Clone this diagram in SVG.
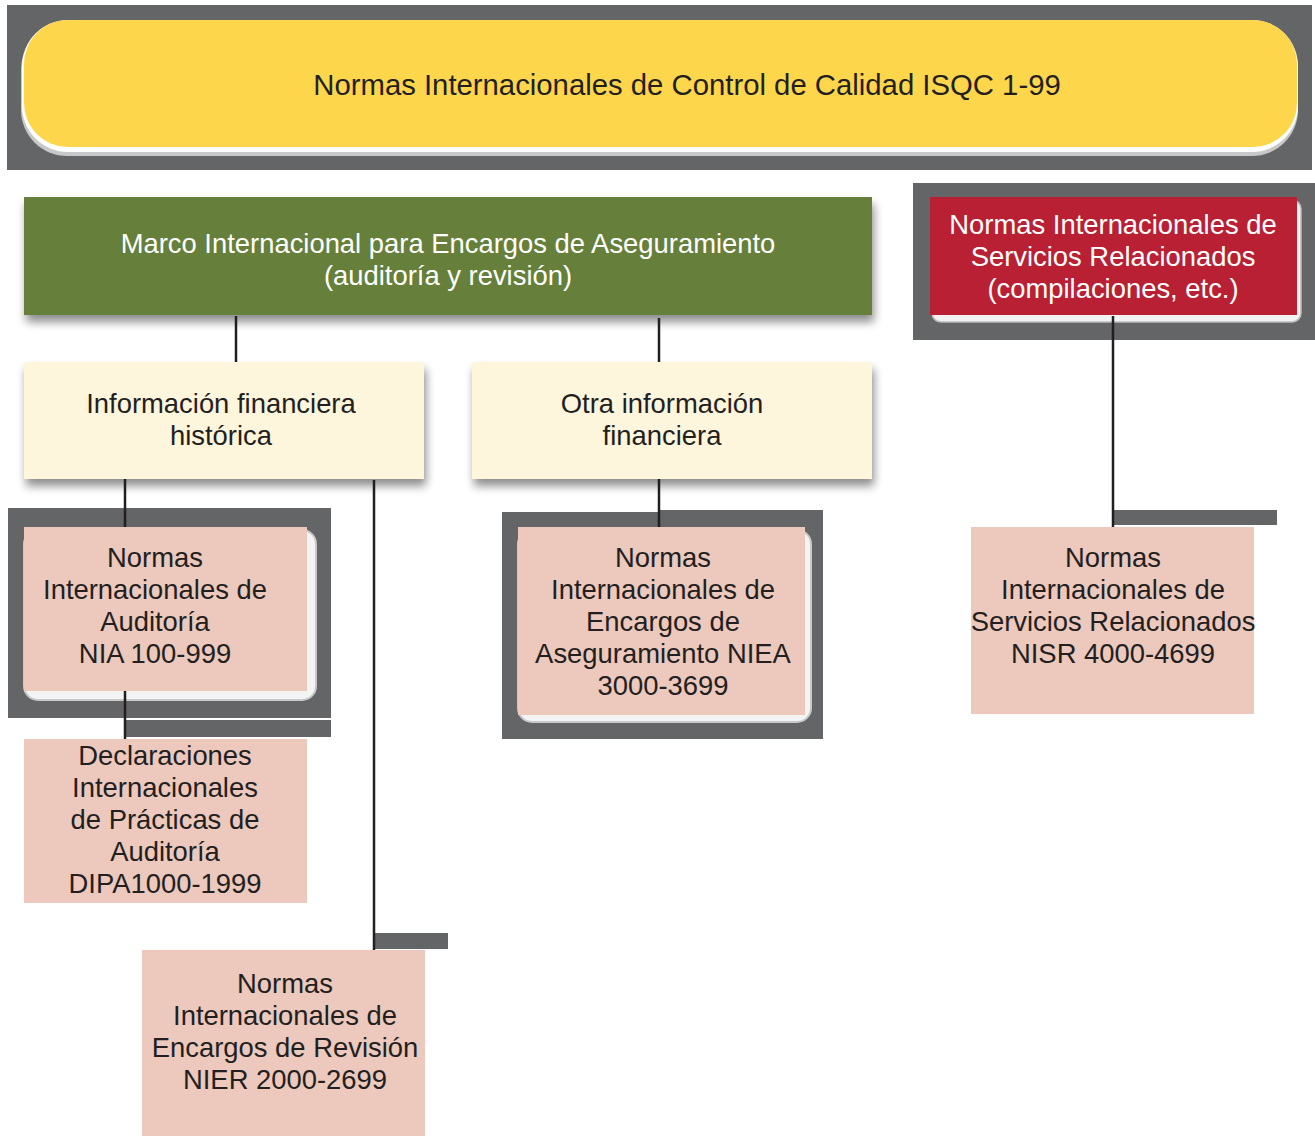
<svg xmlns="http://www.w3.org/2000/svg" width="1315" height="1136" viewBox="0 0 1315 1136">
<style>
.t{font-family:"Liberation Sans",Arial,sans-serif;font-size:27.4px;fill:#231f20;text-anchor:middle}
.w{fill:#ffffff}
.bg{fill:#646567}
.pink{fill:#ecc8bd}
.cream{fill:#fef5dd}
.rim{fill:#f4f4f4;stroke:#c9c9c9;stroke-width:2}
.ln{stroke:#231f20;stroke-width:2.5;fill:none}
</style>
<defs>
<filter id="sh" x="-5%" y="-20%" width="110%" height="150%">
<feGaussianBlur in="SourceAlpha" stdDeviation="5"/>
<feOffset dx="2" dy="7" result="b"/>
<feComponentTransfer><feFuncA type="linear" slope="0.45"/></feComponentTransfer>
<feMerge><feMergeNode/><feMergeNode in="SourceGraphic"/></feMerge>
</filter>
</defs>
<rect width="1315" height="1136" fill="#ffffff"/>

<g id="isqc">
<rect class="bg" x="7" y="5" width="1305" height="165"/>
<rect x="21" y="24" width="1277" height="132" rx="46" fill="#c8c8c8"/>
<rect x="22" y="20" width="1276" height="132" rx="46" fill="#ffffff"/>
<rect x="24" y="20" width="1273" height="127" rx="44" fill="#fed64c"/>
<text class="t" x="687" y="95" style="font-size:29.3px">Normas Internacionales de Control de Calidad ISQC 1-99</text>
</g>

<g id="marco">
<rect x="24" y="197" width="848" height="118" fill="#667f3a" filter="url(#sh)"/>
<text class="t w" x="448" y="253">Marco Internacional para Encargos de Aseguramiento</text>
<text class="t w" x="448" y="285">(auditoría y revisión)</text>
</g>

<g id="nisr-marco">
<rect class="bg" x="913" y="183" width="402" height="157"/>
<rect x="932" y="200" width="369" height="122" rx="9" fill="#f2f2f2" stroke="#bdbdbd" stroke-width="1.5"/>
<rect x="930" y="197" width="367" height="118" fill="#b92034"/>
<text class="t w" x="1113" y="234">Normas Internacionales de</text>
<text class="t w" x="1113" y="266">Servicios Relacionados</text>
<text class="t w" x="1113" y="298">(compilaciones, etc.)</text>
</g>

<g id="historica">
<rect class="cream" x="24" y="362" width="400" height="117" filter="url(#sh)"/>
<text class="t" x="221" y="413">Información financiera</text>
<text class="t" x="221" y="445">histórica</text>
</g>

<g id="otra">
<rect class="cream" x="472" y="362" width="400" height="117" filter="url(#sh)"/>
<text class="t" x="662" y="413">Otra información</text>
<text class="t" x="662" y="445">financiera</text>
</g>

<g id="nia">
<rect class="bg" x="8" y="508" width="323" height="210"/>
<rect class="bg" x="125" y="720" width="206" height="17"/>
<rect class="rim" x="24" y="530" width="292" height="170" rx="14"/>
<rect class="pink" x="24" y="527" width="283" height="164"/>
<text class="t" x="155" y="567">Normas</text>
<text class="t" x="155" y="599">Internacionales de</text>
<text class="t" x="155" y="631">Auditoría</text>
<text class="t" x="155" y="663">NIA 100-999</text>
</g>

<g id="dipa">
<rect class="pink" x="24" y="739" width="283" height="164"/>
<text class="t" x="165" y="765">Declaraciones</text>
<text class="t" x="165" y="797">Internacionales</text>
<text class="t" x="165" y="829">de Prácticas de</text>
<text class="t" x="165" y="861">Auditoría</text>
<text class="t" x="165" y="893">DIPA1000-1999</text>
</g>

<g id="nier">
<rect class="bg" x="374" y="933" width="74" height="16"/>
<rect class="pink" x="142" y="950" width="283" height="186"/>
<text class="t" x="285" y="993">Normas</text>
<text class="t" x="285" y="1025">Internacionales de</text>
<text class="t" x="285" y="1057">Encargos de Revisión</text>
<text class="t" x="285" y="1089">NIER 2000-2699</text>
</g>

<g id="niea">
<rect class="bg" x="502" y="512" width="321" height="227"/>
<rect class="bg" x="659" y="510" width="164" height="15"/>
<rect class="rim" x="518" y="530" width="293" height="192" rx="14"/>
<rect class="pink" x="518" y="527" width="287" height="188"/>
<text class="t" x="663" y="567">Normas</text>
<text class="t" x="663" y="599">Internacionales de</text>
<text class="t" x="663" y="631">Encargos de</text>
<text class="t" x="663" y="663">Aseguramiento NIEA</text>
<text class="t" x="663" y="695">3000-3699</text>
</g>

<g id="nisr">
<rect class="bg" x="1113" y="510" width="164" height="15"/>
<rect class="pink" x="971" y="527" width="283" height="187"/>
<text class="t" x="1113" y="567">Normas</text>
<text class="t" x="1113" y="599">Internacionales de</text>
<text class="t" x="1113" y="631">Servicios Relacionados</text>
<text class="t" x="1113" y="663">NISR 4000-4699</text>
</g>

<g id="connectors">
<line class="ln" x1="236" y1="316" x2="236" y2="362"/>
<line class="ln" x1="659" y1="318" x2="659" y2="362"/>
<line class="ln" x1="125" y1="479" x2="125" y2="527"/>
<line class="ln" x1="125" y1="691" x2="125" y2="739"/>
<line class="ln" x1="374" y1="480" x2="374" y2="950"/>
<line class="ln" x1="659" y1="479" x2="659" y2="527"/>
<line class="ln" x1="1113" y1="316" x2="1113" y2="527"/>
</g>
</svg>
